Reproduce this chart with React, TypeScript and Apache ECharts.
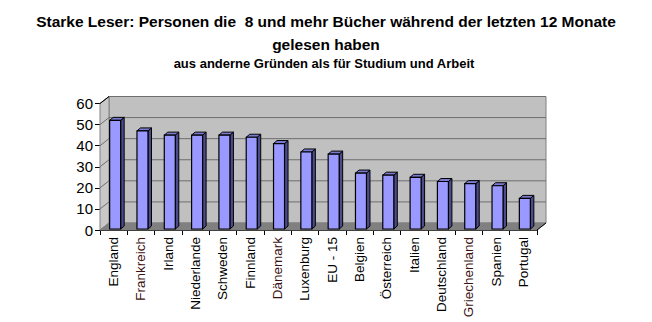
import React, { useEffect, useRef } from "react";
import * as echarts from "echarts";

const categories = [
  "England", "Frankreich", "Irland", "Niederlande", "Schweden", "Finnland",
  "Dänemark", "Luxenburg", "EU - 15", "Belgien", "Österreich", "Italien",
  "Deutschland", "Griechenland", "Spanien", "Portugal",
];
const values = [52, 47, 45, 45, 45, 44, 41, 37, 36, 27, 26, 25, 23, 22, 21, 15];
const yTicks = [0, 10, 20, 30, 40, 50, 60];
const redLabels = ["Frankreich", "Dänemark", "Griechenland"];

const titleText = "Starke Leser: Personen die  8 und mehr Bücher während der letzten 12 Monate\ngelesen haben";
const subText = "aus anderne Gründen als für Studium und Arbeit";

const DX = 9;
const DY = 7;
const FONT = "'Liberation Sans', Arial, sans-serif";

export default function App() {
  const ref = useRef<HTMLDivElement>(null);
  useEffect(() => {
    if (!ref.current) return;
    const chart = echarts.init(ref.current, undefined, { renderer: "svg" });
    const option: any = {
      animation: false,
      backgroundColor: "#ffffff",
      title: [
        {
          text: titleText,
          left: "center",
          top: 5,
          textStyle: { fontFamily: FONT, fontSize: 15.5, fontWeight: "bold", color: "#000", lineHeight: 23 },
        },
        {
          text: subText,
          left: 319,
          textAlign: "center",
          top: 52,
          textStyle: { fontFamily: FONT, fontSize: 13, fontWeight: "bold", color: "#000" },
        },
      ],
      grid: { left: 100, top: 103.5, width: 437, height: 126.5, show: false },
      xAxis: {
        type: "category",
        data: categories,
        boundaryGap: true,
        axisLine: { show: true, lineStyle: { color: "#000", width: 1 } },
        axisTick: { show: true, interval: 0, length: 5, lineStyle: { color: "#000" } },
        axisLabel: {
          interval: 0,
          rotate: 90,
          margin: 7,
          fontFamily: FONT,
          fontSize: 13.5,
          color: (v: string) => (redLabels.includes(v) ? "#3c1212" : "#000"),
        },
        splitLine: { show: false },
      },
      yAxis: {
        type: "value",
        min: 0,
        max: 60,
        interval: 10,
        axisLine: { show: true, lineStyle: { color: "#000", width: 1 } },
        axisTick: { show: true, length: 5, lineStyle: { color: "#000" } },
        axisLabel: { fontFamily: FONT, fontSize: 15, color: "#000", margin: 7 },
        splitLine: { show: false },
      },
      series: [
        {
          type: "custom",
          z: 1,
          clip: false,
          silent: true,
          data: [[0, 0]],
          renderItem: (params: any, api: any) => {
            const cs = params.coordSys;
            const x0 = cs.x;
            const x1 = cs.x + cs.width;
            const yTop = cs.y;
            const yBot = cs.y + cs.height;
            const children: any[] = [];
            children.push({
              type: "rect",
              shape: { x: x0 + DX, y: yTop - DY, width: cs.width, height: cs.height },
              style: { fill: "#c0c0c0", stroke: "#808080", lineWidth: 1 },
            });
            children.push({
              type: "polygon",
              shape: { points: [[x0, yTop], [x0 + DX, yTop - DY], [x0 + DX, yBot - DY], [x0, yBot]] },
              style: { fill: "#c8c8c8", stroke: "#808080", lineWidth: 1 },
            });
            yTicks.forEach((v) => {
              if (v === 0) return;
              const y = api.coord([0, v])[1];
              children.push({
                type: "polyline",
                shape: { points: [[x0, y], [x0 + DX, y - DY], [x1 + DX, y - DY]] },
                style: { stroke: "#6e6e6e", lineWidth: 1, fill: "none" },
              });
            });
            children.push({
              type: "polygon",
              shape: { points: [[x0, yBot], [x0 + DX, yBot - DY], [x1 + DX, yBot - DY], [x1, yBot]] },
              style: { fill: "#808080", stroke: "#808080", lineWidth: 1 },
            });
            children.push({
              type: "line",
              shape: { x1: x0, y1: yTop, x2: x0 + DX, y2: yTop - DY },
              style: { stroke: "#000", lineWidth: 1 },
            });
            children.push({
              type: "line",
              shape: { x1: x1, y1: yBot, x2: x1 + DX, y2: yBot - DY },
              style: { stroke: "#000", lineWidth: 1 },
            });
            return { type: "group", children };
          },
        },
        {
          type: "custom",
          z: 3,
          clip: false,
          data: values.map((v, i) => [i, v]),
          renderItem: (params: any, api: any) => {
            const i = api.value(0);
            const v = api.value(1);
            const top = api.coord([i, v]);
            const bot = api.coord([i, 0]);
            const w = 11;
            const d = 3.5;
            const dy = 3;
            const xl = top[0] - w / 2 + 1.5;
            const xr = xl + w;
            const yt = top[1];
            const yb = bot[1] - 1;
            return {
              type: "group",
              children: [
                {
                  type: "polygon",
                  shape: { points: [[xr, yt], [xr + d, yt - dy], [xr + d, yb - dy], [xr, yb]] },
                  style: { fill: "#4c4c8c", stroke: "#000", lineWidth: 1 },
                },
                {
                  type: "polygon",
                  shape: { points: [[xl, yt], [xl + d, yt - dy], [xr + d, yt - dy], [xr, yt]] },
                  style: { fill: "#7a7ad0", stroke: "#000", lineWidth: 1 },
                },
                {
                  type: "rect",
                  shape: { x: xl, y: yt, width: w, height: yb - yt },
                  style: { fill: "#9999ff", stroke: "#000", lineWidth: 1.2 },
                },
              ],
            };
          },
        },
      ],
    };
    chart.setOption(option);
    return () => chart.dispose();
  }, []);
  return (
    <div
      ref={ref}
      style={{ position: "fixed", left: 0, top: 0, width: 652, height: 322 }}
    />
  );
}
